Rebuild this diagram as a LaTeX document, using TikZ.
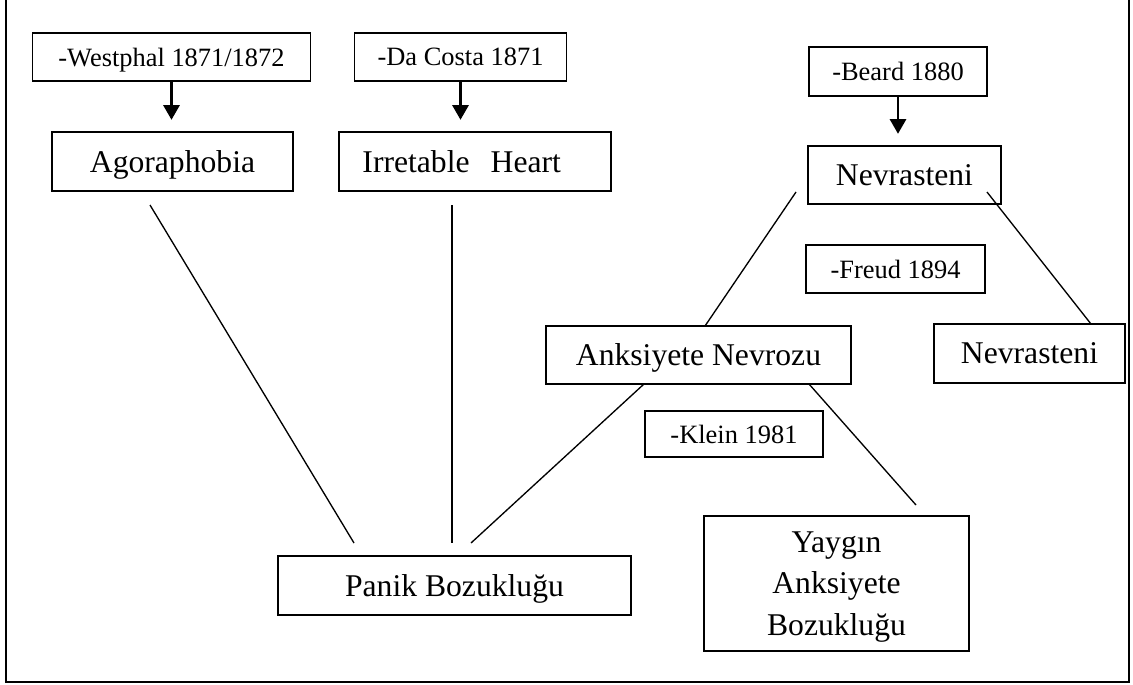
\documentclass[tikz,border=0pt]{standalone}
\usepackage{fontspec}
\setmainfont{Liberation Serif}
\usetikzlibrary{arrows.meta}
\tikzset{
  bigbox/.style={draw,line width=1.4pt,font=\fontsize{22.5}{29.5}\selectfont,inner sep=0pt,text depth=0pt},
  smallbox/.style={draw,line width=1.2pt,font=\fontsize{18.8}{22}\selectfont,inner sep=0pt,text depth=0pt},
  down/.style={-{Triangle[length=10.5pt,width=11.5pt]},line width=1.9pt,shorten >=0.28cm},
  link/.style={line width=0.95pt}
}
\begin{document}
\begin{tikzpicture}[x=0.025cm,y=-0.025cm]
\useasboundingbox (0,0) rectangle (1133,685);
% frame
\draw[line width=2.1pt] (6,0) -- (6,682) -- (1129,682) -- (1129,0);
% sources
\node[smallbox,minimum width=6.95cm,minimum height=1.2cm](west) at (171.5,57) {-Westphal 1871/1872};
\node[smallbox,minimum width=5.3cm,minimum height=1.2cm](dacosta) at (460.5,57) {-Da Costa 1871};
\node[smallbox,minimum width=4.45cm,minimum height=1.225cm](beard) at (898,71.5) {-Beard 1880};
\node[smallbox,minimum width=4.475cm,minimum height=1.2cm](freud) at (895.5,269) {-Freud 1894};
\node[smallbox,minimum width=4.45cm,minimum height=1.15cm](klein) at (734,434) {-Klein 1981};
% terms
\node[bigbox,minimum width=6.025cm,minimum height=1.475cm](agora) at (172.5,161.5) {Agoraphobia};
\node[bigbox,inner xsep=0.575cm,text width=5.625cm,align=left,minimum height=1.475cm](irr) at (475,161.5) {Irretable~ Heart};
\node[bigbox,minimum width=4.825cm,minimum height=1.45cm](nev1) at (904.5,175) {Nevrasteni};
\node[bigbox,minimum width=7.625cm,minimum height=1.45cm](anks) at (698.5,355) {Anksiyete Nevrozu};
\node[bigbox,minimum width=4.775cm,minimum height=1.475cm](nev2) at (1029.5,353.5) {Nevrasteni};
\node[bigbox,minimum width=8.825cm,minimum height=1.475cm](panik) at (454.5,585.5) {Panik Bozukluğu};
\node[bigbox,minimum width=6.625cm,minimum height=3.375cm,align=center](yaygin) at (836.5,583.5) {Yaygın\\Anksiyete\\Bozukluğu};
% arrows
\draw[down] (west.south) -- (west.south |- agora.north);
\draw[down] (dacosta.south) -- (dacosta.south |- irr.north);
\draw[down] (beard.south) -- (beard.south |- nev1.north);
% line ends
\coordinate (a1) at (150,205);
\coordinate (a2) at (354,543);
\coordinate (i1) at (452,205);
\coordinate (i2) at (452,543);
\coordinate (k1) at (644,384);
\coordinate (k2) at (471,543);
\coordinate (n1) at (796,192);
\coordinate (n2) at (705,326);
\coordinate (r1) at (987,192);
\coordinate (r2) at (1091,324);
\coordinate (y1) at (809,384);
\coordinate (y2) at (916,505);
\draw[link] (a1) -- (a2);
\draw[link] (i1) -- (i2);
\draw[link] (k1) -- (k2);
\draw[link] (n1) -- (n2);
\draw[link] (r1) -- (r2);
\draw[link] (y1) -- (y2);
\end{tikzpicture}
\end{document}
